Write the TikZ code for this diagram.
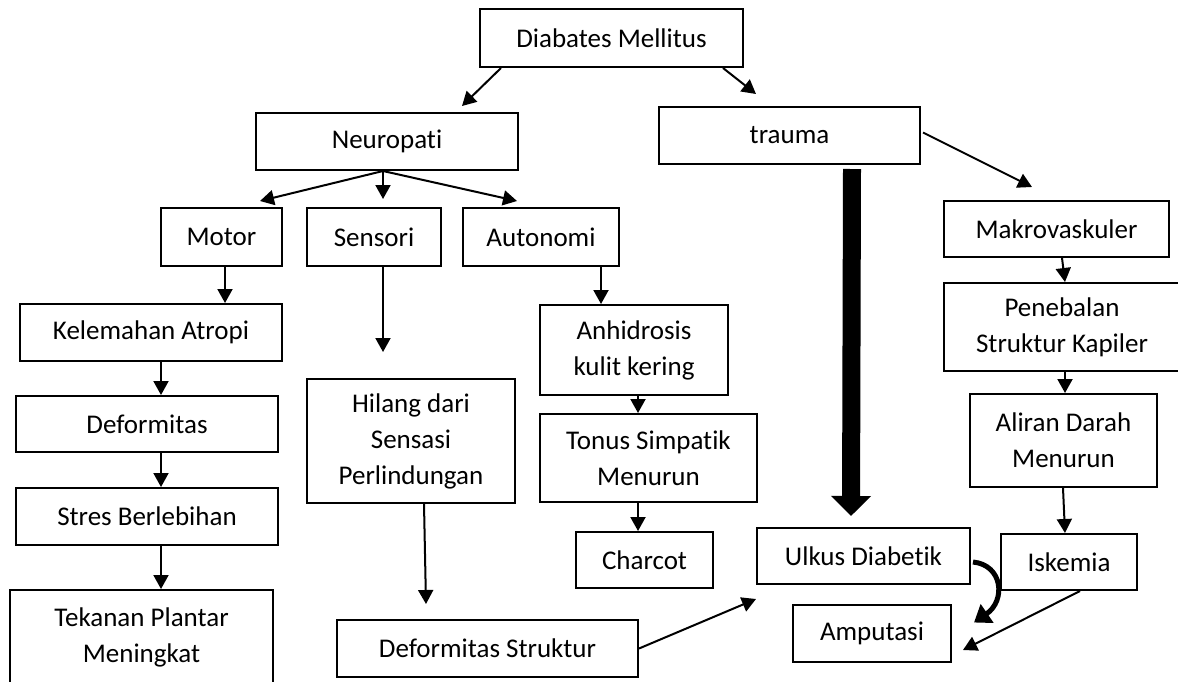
\documentclass[tikz,border=0pt]{standalone}
\usepackage{fontspec}
\setmainfont{Carlito}[Ligatures=NoCommon]
\usepackage{tikz}
\usetikzlibrary{arrows.meta,calc}

\begin{document}
\begin{tikzpicture}[
    x=0.5pt,y=-0.5pt,
    box/.style={draw=black,line width=1pt,align=center,inner sep=0pt,
      font=\fontsize{13.5}{18}\selectfont},
    flow/.style={-{Triangle[length=7pt,width=7.5pt]},line width=1pt},
    heavyflow/.style={-{Triangle[length=10pt,width=19.5pt]},line width=9pt},
    roundflow/.style={-{Triangle[length=8pt,width=11pt]},line width=2.5pt}
  ]
    \useasboundingbox (0,0) rectangle (1178,681);
    \node[box,minimum width=131.5pt,minimum height=29pt] (dm) at (611.5,38) {Diabates Mellitus};
    \node[box,minimum width=131pt,minimum height=28.5pt] (neuro) at (387,141.5) {Neuropati};
    \node[box,minimum width=130.5pt,minimum height=28.5pt] (trauma) at (789.5,135.5) {trauma};
    \node[box,minimum width=60.5pt,minimum height=29pt] (motor) at (221.5,237) {Motor};
    \node[box,minimum width=67pt,minimum height=29pt] (sensori) at (374,237) {Sensori};
    \node[box,minimum width=78pt,minimum height=29pt] (auto) at (541,237) {Autonomi};
    \node[box,minimum width=112.5pt,minimum height=28pt] (makro) at (1056.5,229) {Makrovaskuler};
    \node[box,minimum width=131pt,minimum height=28.5pt] (kel) at (151,332.5) {Kelemahan Atropi};
    \node[box,minimum width=94pt,minimum height=45pt] (anhi) at (634,350) {Anhidrosis\\kulit kering};
    \node[box,minimum width=118pt,minimum height=44pt] (pene) at (1062,327) {Penebalan\\Struktur Kapiler};
    \node[box,minimum width=131pt,minimum height=28pt] (def) at (147,424) {Deformitas};
    \node[box,minimum width=104pt,minimum height=62pt] (hil) at (411,441) {Hilang dari\\Sensasi\\Perlindungan};
    \node[box,minimum width=108.5pt,minimum height=44pt] (tonus) at (648.5,458) {Tonus Simpatik\\Menurun};
    \node[box,minimum width=93.5pt,minimum height=46.5pt] (aliran) at (1063.5,440.5) {Aliran Darah\\Menurun};
    \node[box,minimum width=131pt,minimum height=28.5pt] (stres) at (147,516.5) {Stres Berlebihan};
    \node[box,minimum width=68.5pt,minimum height=28pt] (charcot) at (644.5,560) {Charcot};
    \node[box,minimum width=106.5pt,minimum height=28pt] (ulkus) at (863.5,556) {Ulkus Diabetik};
    \node[box,minimum width=68pt,minimum height=28pt] (iske) at (1069,562) {Iskemia};
    \node[box,minimum width=131.5pt,minimum height=47pt] (tek) at (141.5,637) {Tekanan Plantar\\Meningkat};
    \node[box,minimum width=150.5pt,minimum height=28.5pt] (defs) at (487.5,648.5) {Deformitas Struktur};
    \node[box,minimum width=79pt,minimum height=28.5pt] (amp) at (872,633.5) {Amputasi};
    \coordinate (sensend) at (383,352);
    \draw[flow] ($(dm.south west)+(22,0)$) -- ($(neuro.north west)+(207,-6)$);
    \draw[flow] ($(dm.south east)+(-21,0)$) -- ($(trauma.north west)+(98,-12)$);
    \draw[flow] ($(neuro.south)+(-4,0)$) -- ($(motor.north)+(38.5,-6)$);
    \draw[flow] ($(neuro.south)+(-4,0)$) -- ($(sensori.north)+(9,-8)$);
    \draw[flow] ($(neuro.south)+(-4,0)$) -- ($(auto.north)+(-24,-6)$);
    \draw[flow] ($(motor.south)+(3.5,0)$) -- ($(kel.north)+(74,0)$);
    \draw[flow] ($(kel.south)+(10,0)$) -- ($(def.north)+(14,0)$);
    \draw[flow] ($(def.south)+(14,0)$) -- ($(stres.north)+(14,0)$);
    \draw[flow] ($(stres.south)+(14,0)$) -- ($(tek.north)+(19.5,0)$);
    \draw[flow] (sensori.south -| sensend) -- (sensend);
    \draw[flow] ($(hil.south)+(13,0)$) -- ($(defs.north)+(-61.5,-15)$);
    \draw[flow] ($(auto.south)+(60,0)$) -- ($(anhi.north)+(-33,0)$);
    \draw[flow] ($(anhi.south)+(4,0)$) -- ($(tonus.north)+(-10.5,0)$);
    \draw[flow] ($(tonus.south)+(-10.5,0)$) -- ($(charcot.north)+(-6.5,0)$);
    \draw[flow] ($(trauma.east)+(2,-3)$) -- ($(makro.north)+(-24.5,-13)$);
    \draw[flow] ($(makro.south)+(5.5,0)$) -- ($(pene.north)+(3,0)$);
    \draw[flow] ($(pene.south)+(3,0)$) -- ($(aliran.north)+(1.5,0)$);
    \draw[flow] ($(aliran.south)+(-0.5,0)$) -- ($(iske.north)+(-4,0)$);
    \draw[heavyflow] ($(trauma.south east)+(-69,4)$) -- ($(ulkus.north)+(-12.5,-11)$);
    \draw[roundflow] ($(ulkus.east)+(2,6)$) .. controls +(30,3) and +(32,-22) .. ($(amp.east)+(22,-11)$);
    \draw[flow] ($(iske.south)+(11,0)$) -- ($(amp.east)+(11,16.5)$);
    \draw[flow] (defs.east) -- ($(ulkus.south west)+(0,14)$);
  \end{tikzpicture}
\end{document}
